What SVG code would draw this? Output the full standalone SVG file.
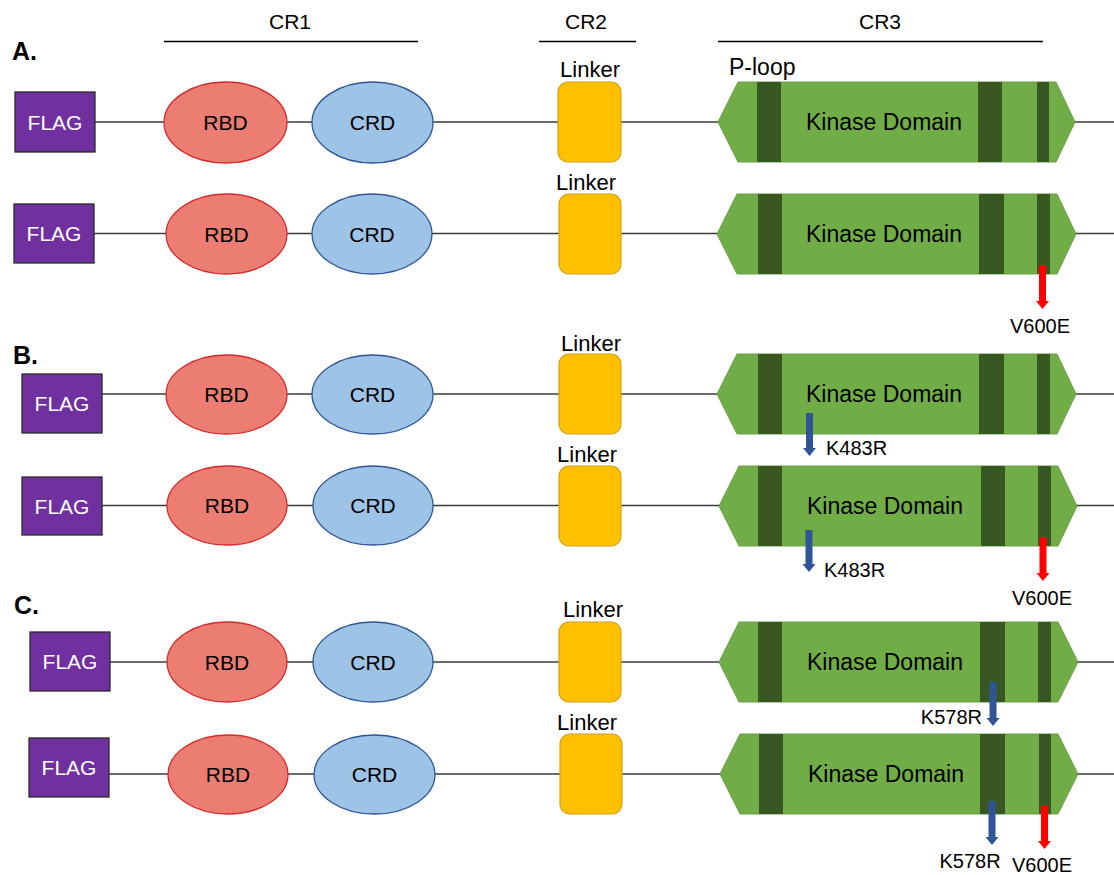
<svg xmlns="http://www.w3.org/2000/svg" width="1114" height="875" viewBox="0 0 1114 875">
<style>
text{font-family:"Liberation Sans",Arial,sans-serif;fill:#000}
.hdr{font-size:21px;text-anchor:middle}
.sec{font-size:25px;font-weight:bold}
.flag{fill:#7030A0;stroke:#2b2b2b;stroke-width:1.3}
.flagt{font-size:21px;fill:#fff;text-anchor:middle}
.rbd{fill:#EC7D72;stroke:#D42A2A;stroke-width:1.3}
.crd{fill:#9DC3E6;stroke:#2F5597;stroke-width:1.3}
.lbl{font-size:21px;text-anchor:middle}
.lnk{fill:#FFC000;stroke:#D4A017;stroke-width:1.2}
.lnkt{font-size:22px;text-anchor:middle}
.kin{fill:#70AD47;stroke:#6A9F45;stroke-width:1}
.band{fill:#385723}
.kint{font-size:23px;text-anchor:middle}
.mut{font-size:20px}
.bb{stroke:#3a3a3a;stroke-width:1.6;fill:none}
.hl{stroke:#000;stroke-width:1.3}
.red{fill:#FF0000}
.blue{fill:#2F5597}
</style>

<g id="headers">
<text class="hdr" x="290" y="29">CR1</text>
<line class="hl" x1="164" y1="41.5" x2="418" y2="41.5"/>
<text class="hdr" x="586" y="29">CR2</text>
<line class="hl" x1="539" y1="41.5" x2="636" y2="41.5"/>
<text class="hdr" x="880" y="29">CR3</text>
<line class="hl" x1="718" y1="41.5" x2="1043" y2="41.5"/>
<text class="sec" x="12" y="60">A.</text>
<text class="sec" x="13" y="364">B.</text>
<text class="sec" x="14" y="614">C.</text>
<text style="font-size:23px" x="729" y="75">P-loop</text>
</g>

<g id="connectors">
<line class="bb" x1="95" y1="122" x2="1114" y2="122"/>
<line class="bb" x1="94" y1="233.5" x2="1114" y2="233.5"/>
<line class="bb" x1="102" y1="394" x2="1114" y2="394"/>
<line class="bb" x1="102" y1="505.5" x2="1114" y2="505.5"/>
<line class="bb" x1="110" y1="662" x2="1114" y2="662"/>
<line class="bb" x1="109" y1="774" x2="1114" y2="774"/>
</g>

<!-- Row A1 -->
<g id="flagA1"><rect class="flag" x="15" y="92" width="80" height="60"/><text class="flagt" x="55" y="129.5">FLAG</text></g>
<g id="rbdA1"><ellipse class="rbd" cx="225.5" cy="122.5" rx="61.5" ry="40.5"/><text class="lbl" x="225.5" y="130">RBD</text></g>
<g id="crdA1"><ellipse class="crd" cx="372.5" cy="122.5" rx="60.5" ry="40.5"/><text class="lbl" x="372.5" y="130">CRD</text></g>
<g id="linkerA1"><rect class="lnk" x="558" y="82" width="63" height="80" rx="10"/><text class="lnkt" x="590" y="77">Linker</text></g>
<g id="kinaseA1"><polygon class="kin" points="718,122 738,82 1056,82 1075,122 1056,162 738,162"/>
<rect class="band" x="757" y="82" width="24" height="80"/><rect class="band" x="978" y="82" width="24" height="80"/><rect class="band" x="1037" y="82" width="12" height="80"/>
<text class="kint" x="884" y="130">Kinase Domain</text></g>

<!-- Row A2 -->
<g id="flagA2"><rect class="flag" x="14" y="204" width="80" height="59"/><text class="flagt" x="54" y="241">FLAG</text></g>
<g id="rbdA2"><ellipse class="rbd" cx="226.5" cy="234" rx="60.5" ry="40"/><text class="lbl" x="226.5" y="241.5">RBD</text></g>
<g id="crdA2"><ellipse class="crd" cx="372" cy="234" rx="60" ry="40"/><text class="lbl" x="372" y="241.5">CRD</text></g>
<g id="linkerA2"><rect class="lnk" x="559" y="194" width="62" height="80" rx="10"/><text class="lnkt" x="586" y="190">Linker</text></g>
<g id="kinaseA2"><polygon class="kin" points="717,234 737,194 1057,194 1076,234 1057,274 737,274"/>
<rect class="band" x="758" y="194" width="24" height="80"/><rect class="band" x="979" y="194" width="25" height="80"/><rect class="band" x="1037" y="194" width="13" height="80"/>
<text class="kint" x="884" y="242">Kinase Domain</text></g>
<g id="mutA2_V600E"><polygon class="red" points="1039,265 1046,265 1046,301 1049,301 1042.5,309 1036,301 1039,301"/><text class="mut" x="1040" y="333" text-anchor="middle">V600E</text></g>

<!-- Row B1 -->
<g id="flagB1"><rect class="flag" x="22" y="374" width="80" height="59"/><text class="flagt" x="62" y="411">FLAG</text></g>
<g id="rbdB1"><ellipse class="rbd" cx="226.5" cy="394.5" rx="60.5" ry="39.5"/><text class="lbl" x="226.5" y="402">RBD</text></g>
<g id="crdB1"><ellipse class="crd" cx="372.5" cy="394.5" rx="60.5" ry="39.5"/><text class="lbl" x="372.5" y="402">CRD</text></g>
<g id="linkerB1"><rect class="lnk" x="559" y="354" width="62" height="80" rx="10"/><text class="lnkt" x="591" y="351">Linker</text></g>
<g id="kinaseB1"><polygon class="kin" points="717,394 737,354 1057,354 1076,394 1057,434 737,434"/>
<rect class="band" x="758" y="354" width="24" height="80"/><rect class="band" x="979" y="354" width="25" height="80"/><rect class="band" x="1037" y="354" width="13" height="80"/>
<text class="kint" x="884" y="402">Kinase Domain</text></g>
<g id="mutB1_K483R"><polygon class="blue" points="806,413 813,413 813,448 816,448 809.5,456 803,448 806,448"/><text class="mut" x="826" y="455">K483R</text></g>

<!-- Row B2 -->
<g id="flagB2"><rect class="flag" x="22" y="477" width="80" height="58"/><text class="flagt" x="62" y="513.5">FLAG</text></g>
<g id="rbdB2"><ellipse class="rbd" cx="227" cy="505.5" rx="60" ry="39.5"/><text class="lbl" x="227" y="513">RBD</text></g>
<g id="crdB2"><ellipse class="crd" cx="373" cy="505.5" rx="60" ry="39.5"/><text class="lbl" x="373" y="513">CRD</text></g>
<g id="linkerB2"><rect class="lnk" x="559" y="466" width="62" height="80" rx="10"/><text class="lnkt" x="587" y="462">Linker</text></g>
<g id="kinaseB2"><polygon class="kin" points="719,506 739,466 1058,466 1077,506 1058,546 739,546"/>
<rect class="band" x="758" y="466" width="24" height="80"/><rect class="band" x="981" y="466" width="24" height="80"/><rect class="band" x="1038" y="466" width="13" height="80"/>
<text class="kint" x="885" y="514">Kinase Domain</text></g>
<g id="mutB2_K483R"><polygon class="blue" points="805.5,530 812.5,530 812.5,564 815.5,564 809,572 802.5,564 805.5,564"/><text class="mut" x="824" y="577">K483R</text></g>
<g id="mutB2_V600E"><polygon class="red" points="1039.5,537 1046.5,537 1046.5,573 1049.5,573 1043,581 1036.5,573 1039.5,573"/><text class="mut" x="1042" y="605" text-anchor="middle">V600E</text></g>

<!-- Row C1 -->
<g id="flagC1"><rect class="flag" x="30" y="632" width="80" height="59"/><text class="flagt" x="70" y="669">FLAG</text></g>
<g id="rbdC1"><ellipse class="rbd" cx="227" cy="662" rx="60" ry="40"/><text class="lbl" x="227" y="669.5">RBD</text></g>
<g id="crdC1"><ellipse class="crd" cx="373" cy="662" rx="60" ry="40"/><text class="lbl" x="373" y="669.5">CRD</text></g>
<g id="linkerC1"><rect class="lnk" x="559" y="622" width="62" height="80" rx="10"/><text class="lnkt" x="593" y="617">Linker</text></g>
<g id="kinaseC1"><polygon class="kin" points="719,662 739,622 1058,622 1078,662 1058,702 739,702"/>
<rect class="band" x="758" y="622" width="24" height="80"/><rect class="band" x="980" y="622" width="25" height="80"/><rect class="band" x="1038" y="622" width="13" height="80"/>
<text class="kint" x="885" y="670">Kinase Domain</text></g>
<g id="mutC1_K578R"><polygon class="blue" points="989.5,682 996.5,682 996.5,718 999.5,718 993,726 986.5,718 989.5,718"/><text class="mut" x="982" y="724" text-anchor="end">K578R</text></g>

<!-- Row C2 -->
<g id="flagC2"><rect class="flag" x="29" y="738" width="80" height="59"/><text class="flagt" x="69" y="775">FLAG</text></g>
<g id="rbdC2"><ellipse class="rbd" cx="228" cy="774.5" rx="60" ry="39.5"/><text class="lbl" x="228" y="782">RBD</text></g>
<g id="crdC2"><ellipse class="crd" cx="374.5" cy="774.5" rx="60.5" ry="39.5"/><text class="lbl" x="374.5" y="782">CRD</text></g>
<g id="linkerC2"><rect class="lnk" x="560" y="734" width="62" height="80" rx="10"/><text class="lnkt" x="587" y="730">Linker</text></g>
<g id="kinaseC2"><polygon class="kin" points="720,774 740,734 1058,734 1078,774 1058,814 740,814"/>
<rect class="band" x="759" y="734" width="24" height="80"/><rect class="band" x="980" y="734" width="25" height="80"/><rect class="band" x="1039" y="734" width="12" height="80"/>
<text class="kint" x="886" y="782">Kinase Domain</text></g>
<g id="mutC2_K578R"><polygon class="blue" points="988.5,801 995.5,801 995.5,837 998.5,837 992,845 985.5,837 988.5,837"/><text class="mut" x="970" y="868" text-anchor="middle">K578R</text></g>
<g id="mutC2_V600E"><polygon class="red" points="1041,805 1048,805 1048,841 1051,841 1044.5,849 1038,841 1041,841"/><text class="mut" x="1042" y="872" text-anchor="middle">V600E</text></g>
</svg>
